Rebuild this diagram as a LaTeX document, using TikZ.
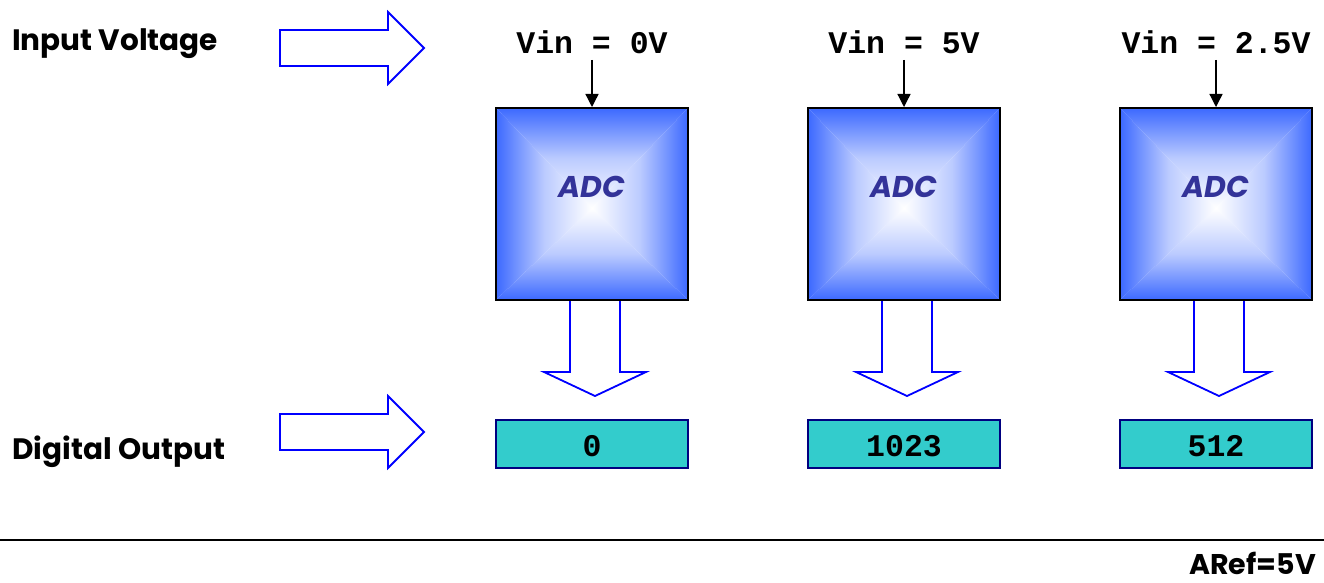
\documentclass[tikz,border=0pt]{standalone}
\usepackage{fontspec}
\usetikzlibrary{arrows.meta}
\setmainfont{Poppins}
\newfontfamily\monofam{Liberation Mono}
\definecolor{adcblue}{RGB}{60,105,255}
\definecolor{navy}{RGB}{51,51,153}
\definecolor{outfill}{RGB}{51,204,204}
\definecolor{outline}{RGB}{0,0,128}
\begin{document}
\begin{tikzpicture}[x=1pt,y=-1pt,
  lbl/.style={anchor=west,font=\fontsize{29.5}{31}\selectfont\bfseries,inner sep=0},
  vin/.style={font=\monofam\fontsize{31.5}{33}\selectfont\bfseries,inner sep=0},
  outtxt/.style={font=\monofam\fontsize{31.5}{33}\selectfont\bfseries,inner sep=0},
  adctxt/.style={font=\fontsize{30}{32}\selectfont\bfseries\itshape,text=navy,inner sep=0},
  hollow/.style={draw=blue,line width=1.8pt,fill=white,line join=miter},
  smallarr/.style={-{Triangle[length=13pt,width=13pt]},line width=1.3pt,black},
  outbox/.style={draw=outline,line width=1.8pt,fill=outfill}]
\useasboundingbox (0,0) rectangle (1324,583);
\fill[white] (0,0) rectangle (1324,583);

\node[lbl] (inlbl) at (12,44) {Input Voltage};
\node[lbl] (outlbl) at (12,452) {Digital Output};

% right arrows
\draw[hollow] (280,30) -- (388,30) -- (388,12) -- (424,48) -- (388,84) -- (388,66) -- (280,66) -- cycle;
\draw[hollow] (280,414) -- (388,414) -- (388,396) -- (424,432) -- (388,468) -- (388,450) -- (280,450) -- cycle;

\foreach \cx/\v/\o/\i in {592/0V/0/a, 904/5V/1023/b, 1216/2.5V/512/c}{
  % ADC box shading
  \shade[top color=adcblue,bottom color=white,middle color=adcblue!35] (\cx-96,108) -- (\cx+96,108) -- (\cx,208) -- cycle;
  \shade[bottom color=adcblue,top color=white,middle color=adcblue!35] (\cx-96,300) -- (\cx+96,300) -- (\cx,208) -- cycle;
  \shade[left color=adcblue,right color=white,middle color=adcblue!35] (\cx-96,108) -- (\cx-96,300) -- (\cx,208) -- cycle;
  \shade[right color=adcblue,left color=white,middle color=adcblue!35] (\cx+96,108) -- (\cx+96,300) -- (\cx,208) -- cycle;
  \node[draw=black,line width=2pt,minimum width=192pt,minimum height=192pt,inner sep=0] (adc\i) at (\cx,204) {};
  \node[adctxt] at (\cx,187) {ADC};
  \node[vin] (vin\i) at (\cx,42) {Vin = \v};
  \draw[smallarr] (\cx,60) -- (adc\i.north);
  % hollow down arrow
  \draw[hollow] (\cx-22,301) -- (\cx-22,372) -- (\cx-48,372) -- (\cx+3,396) -- (\cx+54,372) -- (\cx+28,372) -- (\cx+28,301);
  \node[outbox,minimum width=192pt,minimum height=48pt,inner sep=0] (out\i) at (\cx,444) {};
  \node[outtxt] at (\cx,446) {\o};
}

\coordinate (la) at (0,540);
\coordinate (lb) at (1324,540);
\draw[line width=2.2pt] (la) -- (lb);
\node[anchor=east,font=\fontsize{28.5}{30}\selectfont\bfseries,inner sep=0] (aref) at (1316,563) {ARef=5V};
\end{tikzpicture}
\end{document}
